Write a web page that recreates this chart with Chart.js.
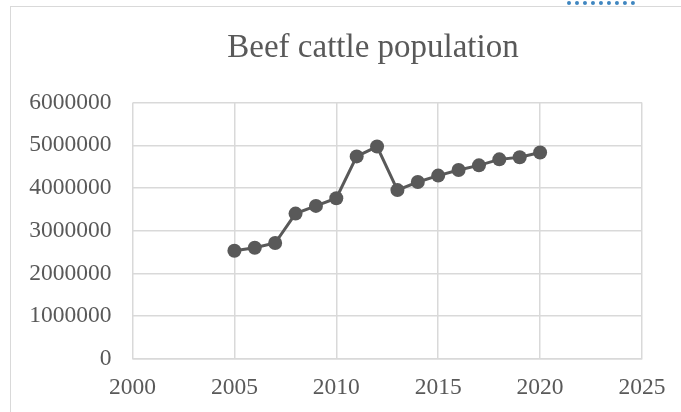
<!DOCTYPE html>
<html>
<head>
<meta charset="utf-8">
<script src="https://cdn.jsdelivr.net/npm/chart.js@4.4.1/dist/chart.umd.min.js"></script>
<style>
  html, body { margin: 0; padding: 0; background: #fff; overflow: hidden; }
  #wrap { position: relative; width: 681px; height: 412px; }
  #frame { position: absolute; left: 10px; top: 6px; width: 800px; height: 500px; border: 1px solid #d9d9d9; box-sizing: border-box; }
  #handle { position: absolute; left: 567px; top: 1px; width: 68px; height: 0; border-top: 4px dotted #3f86c0; }
  canvas { position: absolute; left: 0; top: 0; }
</style>
</head>
<body>
<div id="wrap">
  <div id="frame"></div>
  <div id="handle"></div>
  <canvas id="chart" width="681" height="412"></canvas>
</div>
<script>
const years = [2005, 2006, 2007, 2008, 2009, 2010, 2011, 2012, 2013, 2014, 2015, 2016, 2017, 2018, 2019, 2020];
const population = [2530000, 2600000, 2710000, 3400000, 3580000, 3760000, 4740000, 4970000,
                    3950000, 4140000, 4290000, 4420000, 4530000, 4670000, 4720000, 4830000];
const chartTitle = 'Beef cattle population';

const textColor = '#595959';
const gridColor = '#d9d9d9';

const points = years.map((y, i) => ({ x: y, y: population[i] }));

// the original chart is wider than the visible crop, so its title sits right of centre
const shiftTitle = {
  id: 'shiftTitle',
  afterLayout(chart) {
    if (chart.titleBlock) chart.titleBlock.left = 104;
  }
};

new Chart(document.getElementById('chart'), {
  type: 'scatter',
  data: {
    datasets: [{
      label: chartTitle,
      data: points,
      showLine: true,
      borderColor: textColor,
      backgroundColor: textColor,
      borderWidth: 3,
      pointRadius: 7,
      pointBorderWidth: 0
    }]
  },
  options: {
    responsive: false,
    animation: false,
    layout: { padding: { left: 0, right: 39, top: 0, bottom: 0 } },
    plugins: {
      legend: { display: false },
      tooltip: { enabled: false },
      title: {
        display: true,
        text: chartTitle,
        color: textColor,
        font: { family: 'Liberation Serif', size: 33, weight: 'normal' },
        padding: { top: 29, bottom: 34 }
      }
    },
    scales: {
      x: {
        type: 'linear',
        min: 2000,
        max: 2025,
        afterFit: s => { s.height = 53.3; },
        grid: { color: gridColor, lineWidth: 1.5, drawTicks: false },
        border: { color: gridColor, width: 1.5 },
        ticks: {
          stepSize: 5,
          padding: 15,
          color: textColor,
          font: { family: 'Liberation Serif', size: 23.5 },
          callback: v => String(v)
        }
      },
      y: {
        min: 0,
        max: 6000000,
        afterFit: s => { s.width = 132.5; },
        grid: { color: gridColor, lineWidth: 1.5, drawTicks: false },
        border: { display: false },
        ticks: {
          stepSize: 1000000,
          padding: 21,
          color: textColor,
          font: { family: 'Liberation Serif', size: 23.5 },
          callback: v => String(v)
        }
      }
    }
  },
  plugins: [shiftTitle]
});
</script>
</body>
</html>
